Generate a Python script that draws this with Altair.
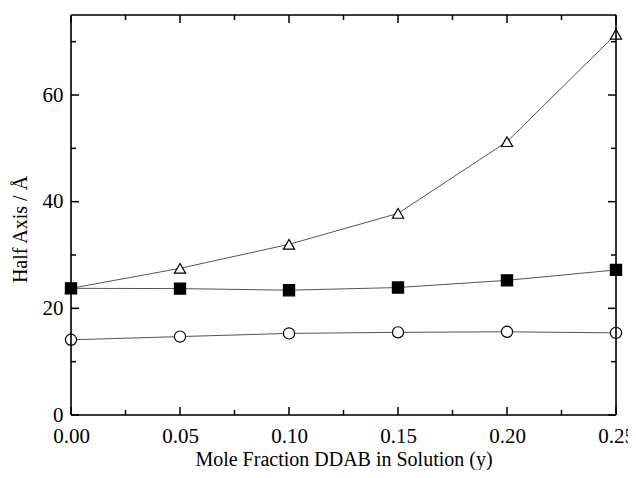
import altair as alt
import pandas as pd

x_vals = [0.00, 0.05, 0.10, 0.15, 0.20, 0.25]
triangle_vals = [23.75, 27.5, 32.0, 37.8, 51.25, 71.4]
square_vals = [23.75, 23.7, 23.4, 23.9, 25.25, 27.2]
circle_vals = [14.1, 14.7, 15.3, 15.5, 15.6, 15.4]
series_names = ["triangle", "square", "circle"]

x_major = [0.00, 0.05, 0.10, 0.15, 0.20, 0.25]
x_minor = [0.025, 0.075, 0.125, 0.175, 0.225]
y_major = [0, 20, 40, 60]
y_minor = [10, 30, 50, 70]

rows = []
for name, vals in zip(series_names, [triangle_vals, square_vals, circle_vals]):
    for xv, yv in zip(x_vals, vals):
        rows.append({"x": xv, "y": yv, "series": name})
df = pd.DataFrame(rows)

W, H = 545, 400
FONT = "Liberation Serif"

xscale = alt.Scale(domain=[0, 0.25], nice=False, zero=False)
yscale = alt.Scale(domain=[0, 75], nice=False)

xaxis = alt.Axis(values=x_major, format=".2f", ticks=False, grid=False, domain=False,
                 labelFont=FONT, labelFontSize=21, labelColor="black", labelPadding=10,
                 title="Mole Fraction DDAB in Solution (y)", titleFont=FONT, titleFontSize=20,
                 titleFontWeight="normal", titleColor="black", titlePadding=3, labelFlush=False)
yaxis = alt.Axis(values=y_major, ticks=False, grid=False, domain=False,
                 labelFont=FONT, labelFontSize=21, labelColor="black", labelPadding=8,
                 title="Half Axis / Å", titleFont=FONT, titleFontSize=20,
                 titleFontWeight="normal", titleColor="black", titlePadding=12, titleY=214)

base = alt.Chart(df)

lines = base.mark_line(color="#555555", strokeWidth=1).encode(
    x=alt.X("x:Q", scale=xscale, axis=xaxis),
    y=alt.Y("y:Q", scale=yscale, axis=yaxis),
    detail="series:N",
)

points = base.mark_point(size=125, strokeWidth=1.2, opacity=1, stroke="black").encode(
    x=alt.X("x:Q", scale=xscale),
    y=alt.Y("y:Q", scale=yscale),
    shape=alt.Shape("series:N", scale=alt.Scale(domain=series_names,
                    range=["triangle-up", "square", "circle"]), legend=None),
    fill=alt.Fill("series:N", scale=alt.Scale(domain=series_names,
                  range=["white", "black", "white"]), legend=None),
)

xmaj = pd.DataFrame({"v": x_major})
xmin = pd.DataFrame({"v": x_minor})
ymaj = pd.DataFrame({"v": y_major})
ymin = pd.DataFrame({"v": y_minor})

def xticks(d, length):
    b = alt.Chart(d).mark_rule(color="black", strokeWidth=1.5)
    bottom = b.encode(x=alt.X("v:Q", scale=xscale), y=alt.value(H), y2=alt.value(H - length))
    top = b.encode(x=alt.X("v:Q", scale=xscale), y=alt.value(0), y2=alt.value(length))
    return bottom + top

def yticks(d, length):
    b = alt.Chart(d).mark_rule(color="black", strokeWidth=1.5)
    left = b.encode(y=alt.Y("v:Q", scale=yscale), x=alt.value(0), x2=alt.value(length))
    right = b.encode(y=alt.Y("v:Q", scale=yscale), x=alt.value(W), x2=alt.value(W - length))
    return left + right

frame_df = pd.DataFrame({"k": [0]})
fb = alt.Chart(frame_df).mark_rule(color="black", strokeWidth=1.6)
frame = (
    fb.encode(x=alt.value(0), x2=alt.value(W), y=alt.value(0))
    + fb.encode(x=alt.value(0), x2=alt.value(W), y=alt.value(H))
    + fb.encode(y=alt.value(0), y2=alt.value(H), x=alt.value(0))
    + fb.encode(y=alt.value(0), y2=alt.value(H), x=alt.value(W))
)

chart = alt.layer(
    lines, points,
    xticks(xmaj, 8), xticks(xmin, 5), yticks(ymaj, 8), yticks(ymin, 5),
    frame,
).properties(
    width=W, height=H,
    autosize=alt.AutoSizeParams(type="none"),
    padding={"left": 63, "top": 7, "right": 12, "bottom": 55},
).configure_view(
    stroke=None
).configure(background="white")

chart.save("out.html", embed_options={"renderer": "svg", "actions": False})
